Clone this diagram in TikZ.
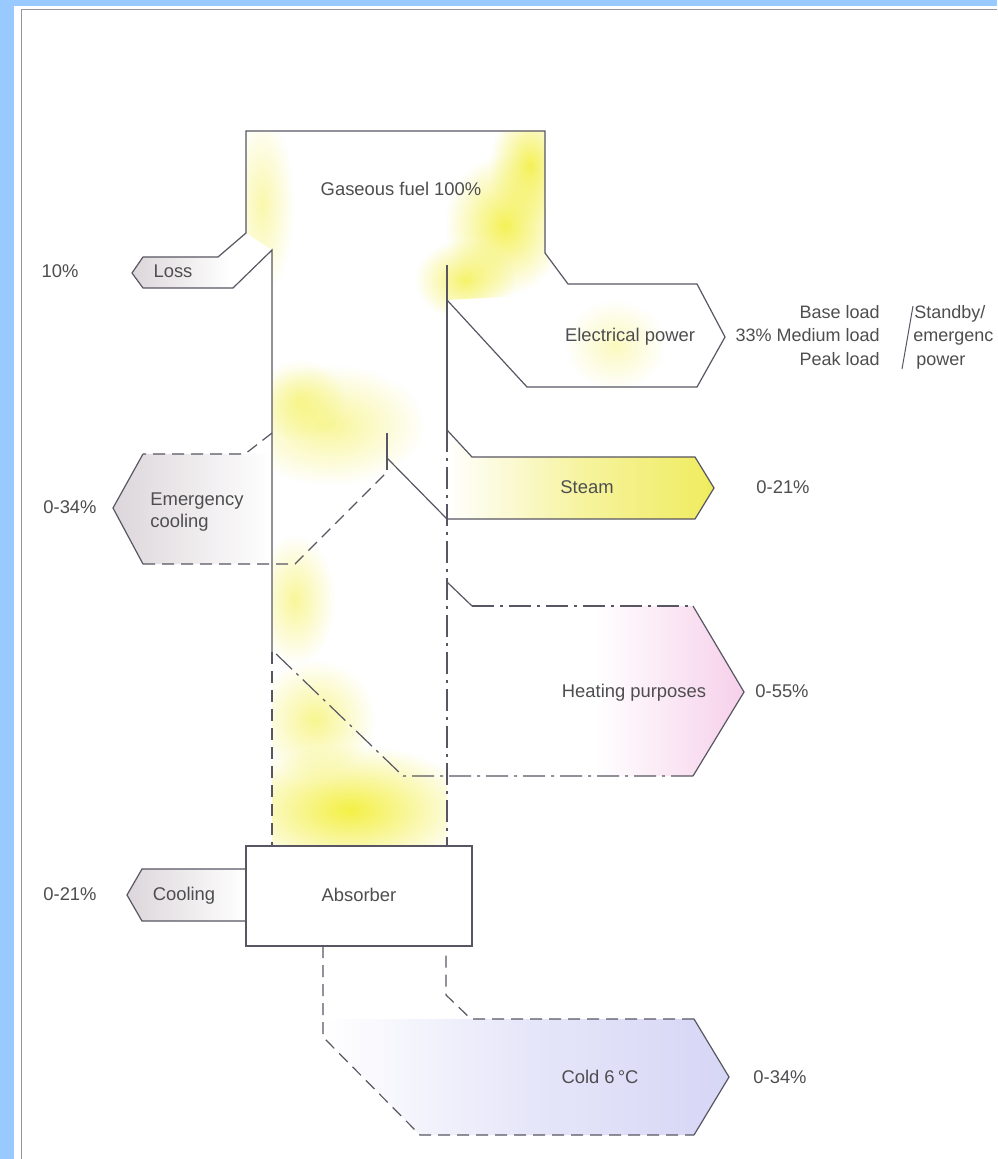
\documentclass[tikz,border=0pt]{standalone}
\usepackage{fontspec}
\setmainfont{Liberation Sans}
\usetikzlibrary{fadings}
\definecolor{bgblue}{RGB}{153,202,255}
\definecolor{framegray}{RGB}{150,150,158}
\definecolor{linec}{RGB}{88,86,98}
\definecolor{txt}{RGB}{78,78,80}
\definecolor{fuel}{RGB}{244,240,70}
\definecolor{steamy}{RGB}{240,236,95}
\definecolor{heatp}{RGB}{246,208,234}
\definecolor{coldb}{RGB}{214,214,246}
\definecolor{greyp}{RGB}{220,214,218}
\tikzfading[name=fuzzy, inner color=transparent!0, outer color=transparent!100]
\begin{document}
\begin{tikzpicture}[x=0.5pt,y=-0.5pt,
  flow/.style={draw=linec, line width=0.6pt, line join=miter},
  dashline/.style={flow, dash pattern=on 6pt off 3.5pt},
  dotdash/.style={flow, dash pattern=on 11pt off 3pt on 1.5pt off 3pt},
  lbl/.style={text=txt, font=\fontsize{9.2}{11}\selectfont, inner sep=0pt, text height=7pt, text depth=2pt},
  rlbl/.style={lbl, font=\fontsize{9}{11}\selectfont},
  blob/.style={fill=fuel, path fading=fuzzy}]
\useasboundingbox (0,0) rectangle (997,1159);
% page frame
\fill[bgblue] (0,0) rectangle (997,1159);
\fill[white] (14,6) rectangle (997,1159);
\draw[framegray, line width=0.5pt] (21,1159) -- (21,10) -- (997,10);

% ---- fills ----
\begin{scope}
  \clip (246,131) -- (545,131) -- (545,253) -- (575,293) -- (447,300) -- (447,846) -- (272,846) -- (272,250) -- (246,233) -- cycle;
  \fill[blob, fill opacity=0.45] (262,205) ellipse (32 and 90);
  \fill[blob, fill opacity=0.9] (530,165) ellipse (40 and 60);
  \fill[blob, fill opacity=0.9] (505,225) ellipse (60 and 70);
  \fill[blob, fill opacity=0.8] (465,280) ellipse (50 and 40);
  \fill[blob, fill opacity=0.55] (330,425) ellipse (95 and 60);
  \fill[blob, fill opacity=0.5] (300,400) ellipse (45 and 40);
  \fill[blob, fill opacity=0.55] (295,600) ellipse (40 and 65);
  \fill[blob, fill opacity=0.6] (315,720) ellipse (60 and 60);
  \fill[blob] (350,810) ellipse (125 and 65);
\end{scope}
\fill[blob, fill opacity=0.35] (615,345) ellipse (50 and 45);
\shade[left color=white, right color=steamy, middle color=white!40!steamy] (472,457) -- (695,457) -- (714,488) -- (695,519) -- (447,519) -- (447,430) -- cycle;
\shade[left color=white, right color=heatp, middle color=white] (447,606) -- (693,606) -- (744,692) -- (693,776) -- (447,776) -- cycle;
\shade[left color=white, right color=coldb, middle color=white!40!coldb] (471,1019) -- (694,1019) -- (729,1077) -- (694,1135) -- (420,1135) -- (323,1037) -- (323,1019) -- cycle;
\shade[left color=greyp, right color=white] (113,508) -- (143,454) -- (272,454) -- (272,564) -- (143,564) -- cycle;
\shade[left color=greyp, right color=white] (132,273) -- (143,257) -- (230,257) -- (230,288) -- (143,288) -- cycle;
\shade[left color=greyp, right color=white] (127,895) -- (142,869) -- (246,869) -- (246,921) -- (142,921) -- cycle;

% ---- outlines ----
\draw[flow] (272,652) -- (272,250) -- (233,288) -- (143,288) -- (132,273) -- (143,257) -- (218,257) -- (246,233) -- (246,131) -- (545,131) -- (545,253) -- (568,284) -- (697,284) -- (725,337) -- (697,387) -- (527,387) -- (447,300);
\draw[flow] (447,265) -- (447,430);
% steam
\draw[flow] (447,430) -- (472,457) -- (695,457) -- (714,488) -- (695,519) -- (447,519);
\draw[flow] (387,433) -- (387,470);
\draw[flow] (387,458) -- (447,519);
% emergency cooling
\draw[dashline] (272,433) -- (245,454) -- (143,454);
\draw[flow] (143,454) -- (113,508) -- (143,564);
\draw[dashline] (143,564) -- (295,564) -- (387,472);
% right column, heating
\draw[dotdash] (447,430) -- (447,846);
\draw[flow] (447,582) -- (472,606);
\draw[dotdash] (472,606) -- (693,606);
\draw[flow] (693,606) -- (744,692) -- (693,776);
\draw[dotdash] (693,776) -- (403,776) -- (272,650);
\draw[dashline] (272,652) -- (272,846);
% absorber and cooling
\node[flow, fill=white, lbl, minimum width=113pt, minimum height=50pt] (absorber) at (359,896) {Absorber};
\draw[flow] (absorber.west |- 0,869) -- (142,869) -- (127,895) -- (142,921) -- (absorber.west |- 0,921);
% cold
\draw[dashline] (323,946) -- (323,1037) -- (420,1135) -- (694,1135);
\draw[flow] (694,1135) -- (729,1077) -- (694,1019);
\draw[dashline] (694,1019) -- (471,1019) -- (446,995) -- (446,954);

% ---- labels ----
\node[lbl] (fuelt) at (401,191) {Gaseous fuel 100\%};
\node[lbl] (loss) at (173,273) {Loss};
\node[lbl] (p10) at (60,273) {10\%};
\node[lbl] (elec) at (630,337) {Electrical power};
\node[rlbl, anchor=east] (base) at (880,314) {Base load};
\node[rlbl, anchor=east] (medium) at (880,337) {33\% Medium load};
\node[rlbl, anchor=east] (peak) at (880,361) {Peak load};
\draw[linec, line width=0.5pt] (913,306) -- (902,369);
\node[rlbl, anchor=west] (standby) at (914,314) {Standby/};
\node[rlbl, anchor=west] (emerg) at (913,337) {emergenc};
\node[rlbl, anchor=west] (power) at (916,361) {power};
\node[lbl] (steam) at (587,488) {Steam};
\node[lbl] (p21a) at (783,488) {0-21\%};
\node[lbl, anchor=west] (ec1) at (150,500) {Emergency};
\node[lbl, anchor=west] (ec2) at (150,522) {cooling};
\node[lbl] (p34a) at (70,508) {0-34\%};
\node[lbl] (heat) at (634,692) {Heating purposes};
\node[lbl] (p55) at (782,692) {0-55\%};
\node[lbl] (cool) at (184,895) {Cooling};
\node[lbl] (p21b) at (70,895) {0-21\%};
\node[lbl] (cold) at (600,1078) {Cold 6\,°C};
\node[lbl] (p34b) at (780,1078) {0-34\%};
\end{tikzpicture}
\end{document}
